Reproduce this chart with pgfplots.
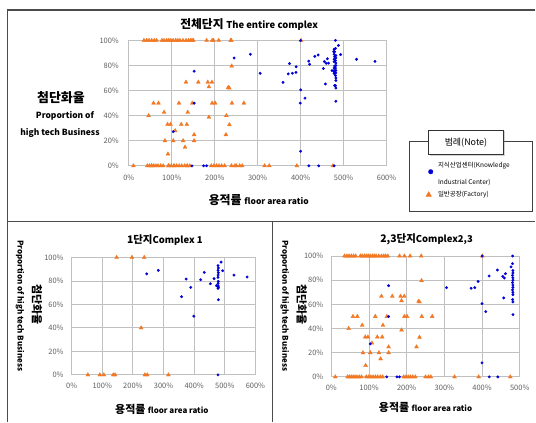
\documentclass[border=0pt]{standalone}
\usepackage{fontspec}
\setmainfont{Noto Sans CJK KR}
\usepackage{pgfplots}
\pgfplotsset{compat=1.18}
\usepackage{pgfplotstable}
\usetikzlibrary{shadows}
\definecolor{orangec}{RGB}{242,120,35}
\definecolor{bluec}{RGB}{0,0,215}
\definecolor{gridc}{RGB}{192,192,192}
\definecolor{tickc}{RGB}{95,95,95}
\definecolor{framec}{RGB}{75,75,75}

% Complex 1, factories
\pgfplotstableread{
x y
147 100
197 100
237 100
227 40
53 0
92 0
105 0
136 0
142 0
239 0
247 0
316 0
}\Coneo
% Complex 1, knowledge industrial centers
\pgfplotstableread{
x y
245 86
283 89
374 81.6
389 74.5
359 66.6
399 50
421 81
433 87.3
453 77.6
465 81.9
473 75.9
478 75.4
488 96
478 93
479 91
478 89
479 87
478 85
478 83
479 79.6
478 78
478 76
479 74.6
478 73.6
479 64
493 88.7
530 85
573 83.3
478 0
}\Coneb
% Complex 2,3, factories
\pgfplotstableread{
x y
35 100
41.5 100
47 100
53 100
59 100
64.5 100
77 100
82 100
88 100
93 100
98 100
103 100
109 100
114 100
119 100
126 100
133 100
139 100
144 100
150 100
181 100
194 100
209 100
238.5 100
401 100
239.4 79.6
133 66.7
161.7 66.7
183.7 66.7
193.5 66.7
186.4 63
231.4 62.5
234 62
57.4 50
69 50
116.6 50
147.5 50
194 50
201 50
240 50
267.7 50
46 40
82 42.7
137 42.7
186.4 38.8
90 33
97 33
122 33
135 33
234 32.8
107.8 28
226 24.8
152 24.8
84 20
103.4 20
126.3 20
152 20
130.7 14.9
91 9.4
10.6 0
43 0
48 0
53 0
58 0
63 0
68 0
74 0
80 0
93 0
99 0
105 0
111 0
117 0
123 0
130 0
136 0
192 0
198 0
204 0
210 0
216 0
223 0
250 0
258 0
264 0
327 0
391 0
475 0
}\Ctwoo
% Complex 2,3, knowledge industrial centers
\pgfplotstableread{
x y
152 75.5
152 50
103.4 27.3
147 0
174 0
181 0
305.7 73.8
371 73.3
380.7 73.8
389.6 79
400 100
400 60.6
410 54
400 11.6
418.7 83.5
440.8 88.4
455 83.2
459.4 81.8
462 85.4
457.6 65.3
477 91
481 93.7
481 100
482 88
482 86
481 84
482 82
482 80
481 78
482 76
482 74
481 72
482 70
482 68
481 64
482 62
482 51.5
419 0
442 0
}\Ctwob

\pgfplotsset{
  panel/.style={scale only axis, clip=false, xmin=0, ymin=0, ymax=100,
    ytick={0,20,40,60,80,100}, grid=major,
    major grid style={draw=gridc, line width=0.8bp},
    axis line style={draw=gridc, line width=0.8bp},
    major tick length=0pt, tick style={draw=none},
    /pgf/number format/assume math mode=true,
    ticklabel style={text=tickc, font=\fontsize{7.5}{8}\selectfont},
    xticklabel={\pgfmathprintnumber{\tick}\%},
    yticklabel={\pgfmathprintnumber{\tick}\%}},
  om/.style={only marks, mark=triangle*, mark size=2.3bp,
    mark options={draw=orangec, fill=orangec, line width=0.3bp}},
  bm/.style={only marks, mark=*, mark size=1.3bp,
    mark options={draw=bluec, fill=bluec, line width=0.3bp}},
  smallimg/.style={legend image code/.code={\draw[mark repeat=2,mark phase=2,##1] plot coordinates {(0cm,#1) (0.1cm,#1) (0.2cm,#1)};}},
}

\begin{document}
\begin{tikzpicture}[x=1bp,y=1bp]
\fill[white] (0,0) rectangle (536,422);
% frame
\draw[framec, line width=1.2bp] (536,412) -- (7.5,412) -- (7.5,0);
\draw[framec, line width=1.2bp] (7.5,200.3) -- (536,200.3);
\draw[framec, line width=1.2bp] (273,200.3) -- (273,0);

% ---------- top: entire complex ----------
\begin{axis}[panel, at={(129bp,256bp)}, anchor=south west, width=258bp, height=125.5bp,
  xmax=600, xtick={0,100,...,600},
  yticklabel style={xshift=-6.5bp}, xticklabel style={yshift=-6bp},
  legend style={draw=none, fill=none, at={(axis description cs:1.152,0.028)}, anchor=north west,
    font=\fontsize{6.5}{8}\selectfont, inner sep=0pt, row sep=5.5bp, column sep=5bp,
    nodes={inner sep=0pt, text height=5bp, text depth=1.5bp}},
  legend cell align=left]
\addplot[om, forget plot] table {\Coneo};
\addplot[om, forget plot] table {\Ctwoo};
\addplot[bm, forget plot] table {\Coneb};
\addplot[bm, forget plot] table {\Ctwob};
\addlegendimage{bm, mark size=2.3bp, smallimg=-6bp}
\addlegendentry{지식산업센터(Knowledge}
\addlegendimage{empty legend}
\addlegendentry{Industrial Center)}
\addlegendimage{om, mark size=3.2bp, smallimg=0bp, xshift=-2bp}
\addlegendentry{일반공장(Factory)}
\end{axis}
\node[font=\bfseries] at (249.5,397) {\fontsize{11.8}{13}\selectfont 전체단지 \fontsize{9.5}{11}\selectfont The entire complex};
\node[font=\bfseries\fontsize{13}{15}\selectfont] at (61,324) {첨단화율};
\node[font=\bfseries\fontsize{8.5}{10}\selectfont] at (65,306) {Proportion of};
\node[font=\bfseries\fontsize{8.5}{10}\selectfont] at (60,289) {high tech Business};
\node[font=\bfseries] at (259,222) {\fontsize{12}{14}\selectfont 용적률 \fontsize{8.5}{10}\selectfont floor area ratio};
% legend frame
\draw[black!75, line width=0.7bp] (409.6,280) rectangle (532.6,210);
\node[draw=black!80, line width=0.7bp, fill=white, drop shadow={shadow xshift=1.2bp, shadow yshift=-1.2bp, opacity=0.35},
  minimum width=75bp, minimum height=25bp, font=\fontsize{9}{10}\selectfont] at (466.5,279.5) {범례(Note)};

% ---------- bottom left: complex 1 ----------
\begin{axis}[panel, at={(71.7bp,46.7bp)}, anchor=south west, width=184bp, height=117.6bp,
  xmax=600, xtick={0,100,...,600},
  yticklabel style={xshift=-4.5bp}, xticklabel style={yshift=-5bp}]
\addplot[om] table {\Coneo};
\addplot[bm] table {\Coneb};
\end{axis}
\node[font=\bfseries] at (165,182) {\fontsize{10.5}{12}\selectfont 1단지\fontsize{9.5}{11}\selectfont Complex 1};
\node[font=\bfseries\fontsize{8}{10}\selectfont, rotate=-90] at (20,116) {Proportion of high tech Business};
\node[font=\bfseries\fontsize{11}{13}\selectfont, rotate=-90] at (37,117) {첨단화율};
\node[font=\bfseries] at (162,12) {\fontsize{11}{13}\selectfont 용적률 \fontsize{8}{10}\selectfont floor area ratio};

% ---------- bottom right: complex 2,3 ----------
\begin{axis}[panel, at={(331.7bp,44.7bp)}, anchor=south west, width=188.6bp, height=121bp,
  xmax=500, xtick={0,100,...,500},
  yticklabel style={xshift=-4.5bp}, xticklabel style={yshift=-5bp}]
\addplot[om] table {\Ctwoo};
\addplot[bm] table {\Ctwob};
\end{axis}
\node[font=\bfseries] at (427,182) {\fontsize{10.5}{12}\selectfont 2,3단지\fontsize{9.5}{11}\selectfont Complex2,3};
\node[font=\bfseries\fontsize{8}{10}\selectfont, rotate=-90] at (285,116) {Proportion of high tech Business};
\node[font=\bfseries\fontsize{11}{13}\selectfont, rotate=-90] at (302,117) {첨단화율};
\node[font=\bfseries] at (426,14) {\fontsize{11}{13}\selectfont 용적률 \fontsize{8}{10}\selectfont floor area ratio};
\end{tikzpicture}
\end{document}
